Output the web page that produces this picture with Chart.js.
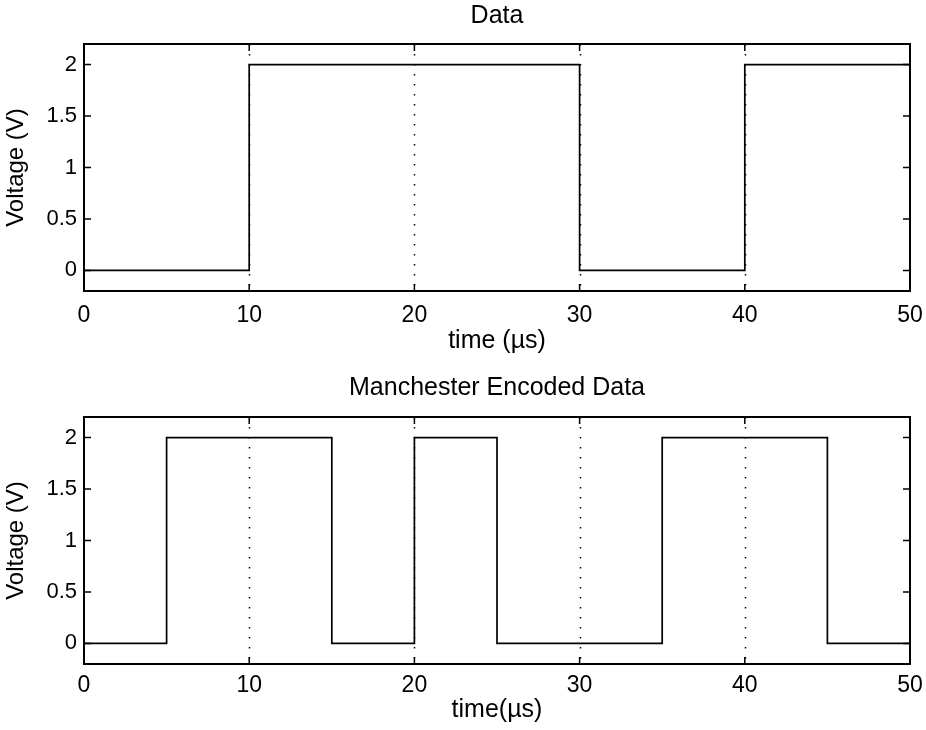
<!DOCTYPE html>
<html>
<head>
<meta charset="utf-8">
<script src="https://cdn.jsdelivr.net/npm/chart.js@4"></script>
<style>
  body { margin: 0; background: #fff; }
  canvas { display: block; }
</style>
</head>
<body>
<canvas id="dataChart" width="926" height="365"></canvas>
<canvas id="manChart" width="926" height="365"></canvas>
<script>
// transitions of the raw data (time in µs, level in V)
const dataTimes = [0, 10, 30, 40, 50];
const dataLevels = [0, 2, 0, 2, 2];
// manchester encoded version
const manTimes = [0, 5, 15, 20, 25, 35, 45, 50];
const manLevels = [0, 2, 0, 2, 0, 2, 0, 0];

const xTicks = [0, 10, 20, 30, 40, 50];
const yTicks = [0, 0.5, 1, 1.5, 2];

Chart.defaults.font.family = "'Liberation Sans', Arial, sans-serif";
Chart.defaults.color = '#000';

// matlab style box: dotted grid, inward ticks on all sides
const framePlugin = {
  id: 'frame',
  beforeDatasetsDraw(chart) {
    const { ctx, chartArea: a, scales: { x } } = chart;
    ctx.save();
    ctx.strokeStyle = '#000';
    ctx.lineWidth = 1.5;
    ctx.setLineDash([1.5, 8.5]);
    x.ticks.forEach(t => {
      if (t.value <= x.min || t.value >= x.max) return;
      const px = Math.round(x.getPixelForValue(t.value)) + 0.5;
      ctx.beginPath();
      ctx.moveTo(px, a.top);
      ctx.lineTo(px, a.bottom);
      ctx.stroke();
    });
    ctx.restore();
  },
  afterDatasetsDraw(chart) {
    const { ctx, chartArea: a, scales: { x, y } } = chart;
    const len = 7;
    ctx.save();
    ctx.strokeStyle = '#000';
    ctx.lineWidth = 1.5;
    ctx.beginPath();
    x.ticks.forEach(t => {
      const px = x.getPixelForValue(t.value);
      ctx.moveTo(px, a.bottom); ctx.lineTo(px, a.bottom - len);
      ctx.moveTo(px, a.top); ctx.lineTo(px, a.top + len);
    });
    y.ticks.forEach(t => {
      const py = y.getPixelForValue(t.value);
      ctx.moveTo(a.left, py); ctx.lineTo(a.left + len, py);
      ctx.moveTo(a.right, py); ctx.lineTo(a.right - len, py);
    });
    ctx.stroke();
    ctx.lineWidth = 2;
    ctx.strokeRect(a.left, a.top, a.right - a.left, a.bottom - a.top);
    ctx.restore();
  }
};

function makeChart(id, times, levels, title, xLabel, lay) {
  const pts = times.map((t, i) => ({ x: t, y: levels[i] }));
  return new Chart(document.getElementById(id), {
    type: 'line',
    data: {
      datasets: [{
        data: pts,
        stepped: true,
        borderColor: '#000',
        borderWidth: 1.7,
        pointRadius: 0,
        fill: false
      }]
    },
    options: {
      responsive: false,
      animation: false,
      layout: { padding: { left: 0, right: 16, top: 0, bottom: 0 } },
      plugins: {
        legend: { display: false },
        tooltip: { enabled: false },
        title: {
          display: true,
          text: title,
          fullSize: false,
          color: '#000',
          font: { size: 25, weight: 'normal' },
          padding: { top: lay.titleTop, bottom: lay.titleBottom }
        }
      },
      scales: {
        x: {
          type: 'linear',
          min: 0, max: 50,
          afterFit: s => { s.height = lay.xHeight; s.paddingLeft = 0; s.paddingRight = 0; },
          afterBuildTicks: s => { s.ticks = xTicks.map(v => ({ value: v })); },
          grid: { display: false, drawTicks: false },
          border: { display: false },
          ticks: { font: { size: 23 }, padding: lay.xPad, maxRotation: 0 },
          title: { display: true, text: xLabel, font: { size: 25 }, padding: { top: 0, bottom: lay.xTitleBottom } }
        },
        y: {
          type: 'linear',
          min: -0.2, max: 2.2,
          afterFit: s => { s.width = 84; s.paddingTop = 0; s.paddingBottom = 0; },
          afterBuildTicks: s => { s.ticks = yTicks.map(v => ({ value: v })); },
          grid: { display: false, drawTicks: false },
          border: { display: false },
          ticks: { font: { size: 22 }, padding: 7, callback: v => String(v) },
          title: { display: true, text: 'Voltage (V)', font: { size: 24 }, padding: { top: 1.6, bottom: 0 } }
        }
      }
    },
    plugins: [framePlugin]
  });
}

// title box height = 30 + top + bottom
makeChart('dataChart', dataTimes, dataLevels, 'Data', 'time (\u00b5s)',
  { titleTop: 1.5, titleBottom: 12.5, xHeight: 74, xPad: 11, xTitleBottom: 8.4 });
makeChart('manChart', manTimes, manLevels, 'Manchester Encoded Data', 'time(\u00b5s)',
  { titleTop: 8, titleBottom: 14, xHeight: 66, xPad: 8, xTitleBottom: 5 });
</script>
</body>
</html>
